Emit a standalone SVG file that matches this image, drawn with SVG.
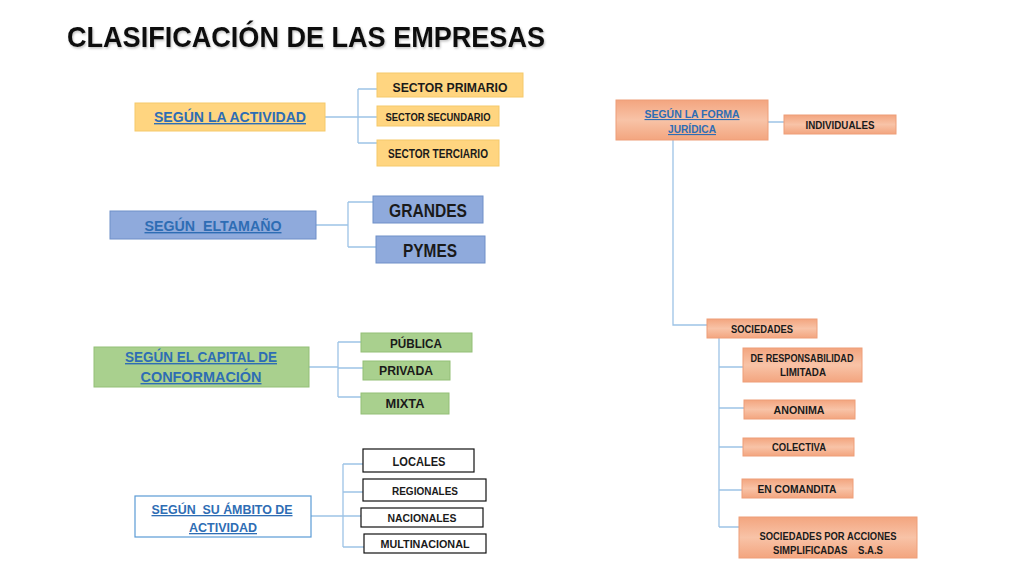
<svg xmlns="http://www.w3.org/2000/svg" width="1024" height="576" viewBox="0 0 1024 576">
<defs>
<linearGradient id="salmon" x1="0" y1="0" x2="0" y2="1">
<stop offset="0" stop-color="#F3A57F"/>
<stop offset="0.5" stop-color="#F8C3A7"/>
<stop offset="1" stop-color="#F3A57F"/>
</linearGradient>
<filter id="sh" x="-5%" y="-20%" width="110%" height="140%">
<feDropShadow dx="1" dy="1.5" stdDeviation="1" flood-color="#000" flood-opacity="0.25"/>
</filter>
</defs>
<style>
text{font-family:"Liberation Sans",Arial,sans-serif;font-weight:bold;text-anchor:middle}
.title{font-size:30px;fill:#111;text-anchor:start}
.lnk{fill:#2E6DB4;text-decoration:underline}
.dk{fill:#1A1A1A}
.gold{fill:#FFD580;stroke:#F5C96A;stroke-width:1}
.blue{fill:#8FAADC;stroke:#6F8FC8;stroke-width:1}
.green{fill:#A9D08E;stroke:#93BF77;stroke-width:1}
.wht{fill:#fff;stroke:#111;stroke-width:1.2}
.whtb{fill:#fff;stroke:#5B9BD5;stroke-width:1.2}
.sal{fill:url(#salmon);stroke:#EE9E78;stroke-width:1}
.con path{fill:none;stroke:#9DC3E6;stroke-width:1.3}
</style>
<rect width="1024" height="576" fill="#fff"/>
<text class="title" x="67" y="47" textLength="478" lengthAdjust="spacingAndGlyphs" filter="url(#sh)">CLASIFICACIÓN DE LAS EMPRESAS</text>

<g id="connectors" class="con">
<path d="M325,117H358M358,89V143M358,89H377M358,117H377M358,143H377"/>
<path d="M316,225H348M348,202V247M348,202H373M348,247H376"/>
<path d="M309,367H338M338,342V397M338,342H361M338,368H363M338,397H361"/>
<path d="M311,516H343M343,464V547M343,464H363M343,492H363M343,516H361M343,547H364"/>
<path d="M768,122H784M673,140V325H707"/>
<path d="M719,338V527M719,367H743M719,408H744M719,447H743M719,490H742M719,527H739"/>
</g>

<g id="actividad"><rect class="gold" x="135" y="103" width="190" height="28"/><text class="lnk" x="230" y="122" font-size="14" textLength="152" lengthAdjust="spacingAndGlyphs">SEGÚN LA ACTIVIDAD</text></g>
<g id="primario"><rect class="gold" x="377" y="73" width="146" height="24"/><text class="dk" x="450" y="92" font-size="13" textLength="115" lengthAdjust="spacingAndGlyphs">SECTOR PRIMARIO</text></g>
<g id="secundario"><rect class="gold" x="377" y="106" width="122" height="20"/><text class="dk" x="438" y="121" font-size="10.5" textLength="105" lengthAdjust="spacingAndGlyphs">SECTOR SECUNDARIO</text></g>
<g id="terciario"><rect class="gold" x="377" y="140" width="122" height="26"/><text class="dk" x="438" y="158" font-size="12" textLength="100" lengthAdjust="spacingAndGlyphs">SECTOR TERCIARIO</text></g>

<g id="tamano"><rect class="blue" x="110" y="211" width="206" height="28"/><text class="lnk" x="213" y="231" font-size="14" textLength="137" lengthAdjust="spacingAndGlyphs" xml:space="preserve">SEGÚN  ELTAMAÑO</text></g>
<g id="grandes"><rect class="blue" x="373" y="196" width="110" height="27"/><text class="dk" x="428" y="217" font-size="18" textLength="78" lengthAdjust="spacingAndGlyphs">GRANDES</text></g>
<g id="pymes"><rect class="blue" x="376" y="236" width="109" height="27"/><text class="dk" x="430" y="257" font-size="18" textLength="54" lengthAdjust="spacingAndGlyphs">PYMES</text></g>

<g id="capital"><rect class="green" x="94" y="347" width="215" height="40"/><text class="lnk" x="201" y="362" font-size="14" textLength="152" lengthAdjust="spacingAndGlyphs">SEGÚN EL CAPITAL DE</text><text class="lnk" x="201" y="382" font-size="14" textLength="121" lengthAdjust="spacingAndGlyphs">CONFORMACIÓN</text></g>
<g id="publica"><rect class="green" x="361" y="333" width="111" height="19"/><text class="dk" x="416" y="348" font-size="13" textLength="52" lengthAdjust="spacingAndGlyphs">PÚBLICA</text></g>
<g id="privada"><rect class="green" x="363" y="361" width="87" height="19"/><text class="dk" x="406" y="375" font-size="13" textLength="54" lengthAdjust="spacingAndGlyphs">PRIVADA</text></g>
<g id="mixta"><rect class="green" x="361" y="393" width="88" height="21"/><text class="dk" x="405" y="408" font-size="13" textLength="39" lengthAdjust="spacingAndGlyphs">MIXTA</text></g>

<g id="ambito"><rect class="whtb" x="135" y="496" width="176" height="41"/><text class="lnk" x="222" y="514" font-size="13" textLength="141" lengthAdjust="spacingAndGlyphs" xml:space="preserve">SEGÚN  SU ÁMBITO DE</text><text class="lnk" x="223" y="532" font-size="13" textLength="68" lengthAdjust="spacingAndGlyphs">ACTIVIDAD</text></g>
<g id="locales"><rect class="wht" x="363" y="449" width="111" height="23"/><text class="dk" x="419" y="466" font-size="13" textLength="53" lengthAdjust="spacingAndGlyphs">LOCALES</text></g>
<g id="regionales"><rect class="wht" x="363" y="479" width="123" height="22"/><text class="dk" x="425" y="495" font-size="11" textLength="66" lengthAdjust="spacingAndGlyphs">REGIONALES</text></g>
<g id="nacionales"><rect class="wht" x="361" y="508" width="122" height="19"/><text class="dk" x="422" y="522" font-size="11" textLength="69" lengthAdjust="spacingAndGlyphs">NACIONALES</text></g>
<g id="multinacional"><rect class="wht" x="364" y="534" width="122" height="19"/><text class="dk" x="425" y="548" font-size="11" textLength="89" lengthAdjust="spacingAndGlyphs">MULTINACIONAL</text></g>

<g id="juridica"><rect class="sal" x="616" y="100" width="152" height="40"/><text class="lnk" x="692" y="118" font-size="11" textLength="95" lengthAdjust="spacingAndGlyphs">SEGÚN LA FORMA</text><text class="lnk" x="692" y="133" font-size="11" textLength="48" lengthAdjust="spacingAndGlyphs">JURÍDICA</text></g>
<g id="individuales"><rect class="sal" x="784" y="115" width="112" height="19"/><text class="dk" x="840" y="129" font-size="10" textLength="69" lengthAdjust="spacingAndGlyphs">INDIVIDUALES</text></g>
<g id="sociedades"><rect class="sal" x="707" y="319" width="110" height="19"/><text class="dk" x="762" y="333" font-size="10" textLength="62" lengthAdjust="spacingAndGlyphs">SOCIEDADES</text></g>
<g id="responsabilidad"><rect class="sal" x="743" y="348" width="119" height="34"/><text class="dk" x="802" y="362" font-size="10" textLength="103" lengthAdjust="spacingAndGlyphs">DE RESPONSABILIDAD</text><text class="dk" x="803" y="376" font-size="10" textLength="46" lengthAdjust="spacingAndGlyphs">LIMITADA</text></g>
<g id="anonima"><rect class="sal" x="744" y="400" width="111" height="19"/><text class="dk" x="799" y="414" font-size="10" textLength="51" lengthAdjust="spacingAndGlyphs">ANONIMA</text></g>
<g id="colectiva"><rect class="sal" x="743" y="438" width="111" height="18"/><text class="dk" x="799" y="451" font-size="10" textLength="54" lengthAdjust="spacingAndGlyphs">COLECTIVA</text></g>
<g id="comandita"><rect class="sal" x="742" y="479" width="111" height="19"/><text class="dk" x="797" y="493" font-size="10" textLength="79" lengthAdjust="spacingAndGlyphs">EN COMANDITA</text></g>
<g id="sas"><rect class="sal" x="739" y="517" width="178" height="41"/><text class="dk" x="828" y="540" font-size="10" textLength="137" lengthAdjust="spacingAndGlyphs">SOCIEDADES POR ACCIONES</text><text class="dk" x="828" y="554" font-size="10" textLength="110" lengthAdjust="spacingAndGlyphs" xml:space="preserve">SIMPLIFICADAS    S.A.S</text></g>
</svg>
